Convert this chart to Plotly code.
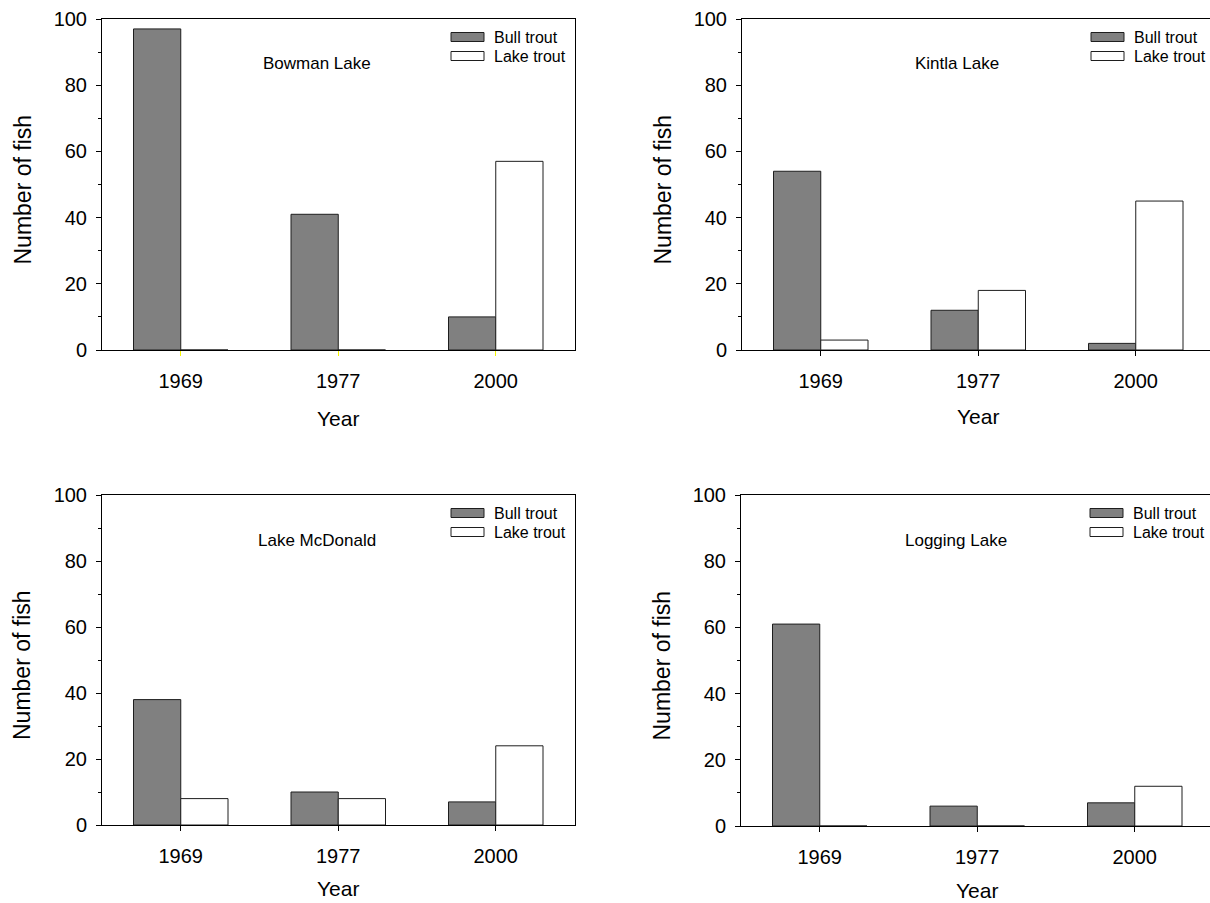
import plotly.graph_objects as go

# Survey years (shared category axis)
years = ["1969", "1977", "2000"]

# Number of fish caught per lake and species
bowman_bull = [97, 41, 10]
bowman_lake = [0, 0, 57]
kintla_bull = [54, 12, 2]
kintla_lake = [3, 18, 45]
mcdonald_bull = [38, 10, 7]
mcdonald_lake = [8, 8, 24]
logging_bull = [61, 6, 7]
logging_lake = [0, 0, 12]

lake_names = ["Bowman Lake", "Kintla Lake", "Lake McDonald", "Logging Lake"]
species = ["Bull trout", "Lake trout"]
y_ticks = [0, 20, 40, 60, 80, 100]

W, H = 1210, 903
FONT = "Arial, Liberation Sans, Helvetica, sans-serif"
BULL_FILL = "#808080"
LAKE_FILL = "#ffffff"
EDGE = "#1e1e1e"

# Panel boxes in pixels: left, right, top, bottom
panels = [
    (102, 575, 19, 350),
    (742, 1210, 19, 350),
    (102, 575, 495, 825),
    (741, 1210, 495, 826),
]
# Vertical offset of the "Year" title below each panel
year_offsets = [69, 66, 63, 64]
CAT_STEP = 157.5  # pixels per year category

series = [
    (bowman_bull, bowman_lake),
    (kintla_bull, kintla_lake),
    (mcdonald_bull, mcdonald_lake),
    (logging_bull, logging_lake),
]


def px(x):
    return x / W


def py(y):
    return 1 - y / H


fig = go.Figure()
shapes = []
annotations = []

for i, ((bull, lake), name, (x0, x1, yt, yb)) in enumerate(zip(series, lake_names, panels)):
    n = "" if i == 0 else str(i + 1)
    xa, ya = "x" + n, "y" + n
    fig.add_trace(go.Bar(
        x=years, y=bull, name=species[0], xaxis=xa, yaxis=ya,
        marker=dict(color=BULL_FILL, line=dict(color=EDGE, width=1)),
        showlegend=False, hoverinfo="x+y+name",
    ))
    fig.add_trace(go.Bar(
        x=years, y=lake, name=species[1], xaxis=xa, yaxis=ya,
        marker=dict(color=LAKE_FILL, line=dict(color=EDGE, width=1)),
        showlegend=False, hoverinfo="x+y+name",
    ))

    right_edge_visible = x1 < W - 1
    x_hi = -0.5 + (x1 - x0) / CAT_STEP
    tick_col = "#f5f500" if i == 0 else "black"

    fig.layout["xaxis" + n] = dict(
        domain=[px(x0), px(x1)], anchor=ya, automargin=False,
        type="category", categoryorder="array", categoryarray=years,
        range=[-0.5, x_hi], showgrid=False, zeroline=False,
        showline=True, linecolor="black", linewidth=1, mirror=True,
        ticks="outside", ticklen=5, tickcolor=tick_col, tickwidth=1,
        ticklabelstandoff=8,
        tickfont=dict(family=FONT, size=20, color="black"),
        fixedrange=True,
    )
    fig.layout["yaxis" + n] = dict(
        domain=[py(yb), py(yt)], anchor=xa, automargin=False,
        range=[0, 100], tickvals=y_ticks, showgrid=False, zeroline=False,
        showline=True, linecolor="black", linewidth=1,
        mirror=right_edge_visible,
        ticks="outside", ticklen=5, tickcolor="black", tickwidth=1,
        ticklabelstandoff=5,
        minor=dict(dtick=10, ticks="outside", ticklen=3, tickcolor="black"),
        tickfont=dict(family=FONT, size=20, color="black"),
        fixedrange=True,
    )

    # Lake name inside the panel
    annotations.append(dict(
        x=px(x0 + 215), y=py(yt + 45), xref="paper", yref="paper",
        text=name, showarrow=False, xanchor="center", yanchor="middle",
        font=dict(family=FONT, size=17, color="black"),
    ))
    # Axis titles
    annotations.append(dict(
        x=px(x0 + 1.5 * CAT_STEP), y=py(yb + year_offsets[i]), xref="paper", yref="paper",
        text="Year", showarrow=False, xanchor="center", yanchor="middle",
        font=dict(family=FONT, size=21, color="black"),
    ))
    annotations.append(dict(
        x=px(x0 - 80), y=py((yt + yb) / 2 + 5), xref="paper", yref="paper",
        text="Number of fish", showarrow=False, textangle=-90,
        xanchor="center", yanchor="middle",
        font=dict(family=FONT, size=23, color="black"),
    ))

    # Per-panel key
    for k, (label, fill) in enumerate(zip(species, [BULL_FILL, LAKE_FILL])):
        cy = yt + 18 + 19 * k
        shapes.append(dict(
            type="rect", xref="paper", yref="paper",
            x0=px(x0 + 349), x1=px(x0 + 382), y0=py(cy + 4.5), y1=py(cy - 4.5),
            fillcolor=fill, line=dict(color=EDGE, width=1),
        ))
        annotations.append(dict(
            x=px(x0 + 390), y=py(cy), xref="paper", yref="paper",
            text=label, showarrow=False, xanchor="left", yanchor="middle",
            font=dict(family=FONT, size=16, color="black"),
        ))

fig.update_layout(
    width=W, height=H,
    margin=dict(l=0, r=0, t=0, b=0, pad=0, autoexpand=False),
    paper_bgcolor="white", plot_bgcolor="white",
    barmode="group", bargap=0.4, bargroupgap=0,
    shapes=shapes, annotations=annotations,
    showlegend=False,
    font=dict(family=FONT, color="black"),
)

fig.write_html("out.html", config={"displayModeBar": False})
